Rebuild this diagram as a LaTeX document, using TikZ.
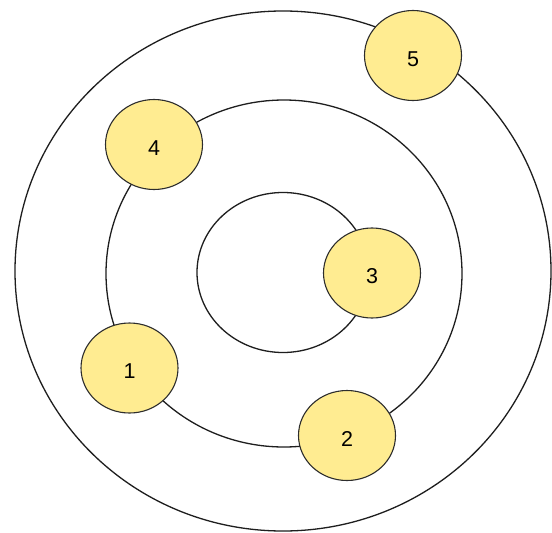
\documentclass[tikz,border=0pt]{standalone}
\usepackage{fontspec}
\setmainfont{Liberation Sans}
\usetikzlibrary{shapes.geometric}
\definecolor{nodefill}{RGB}{255,236,145}
\definecolor{ringline}{RGB}{30,30,30}
\definecolor{nodeline}{RGB}{45,45,45}
\tikzset{
  ring/.style={draw=ringline, line width=1.3pt},
  planet/.style={ellipse, draw=nodeline, line width=1.1pt, fill=nodefill,
    minimum width=97pt, minimum height=90pt, inner sep=0pt,
    text height=21.5pt, text depth=0pt,
    font=\fontsize{21.5}{24}\selectfont}
}
\begin{document}
\begin{tikzpicture}[x=1pt,y=-1pt]
\useasboundingbox (0,0) rectangle (552,533);
\fill[white] (0,0) rectangle (552,533);
% rings
\draw[ring] (283,271) ellipse [x radius=268, y radius=260];
\draw[ring] (284,273.5) ellipse [x radius=178, y radius=173.5];
\draw[ring] (283,272.5) ellipse [x radius=86, y radius=80];
% planets
\node[planet] (n5) at (413,55.5) {5};
\node[planet] (n4) at (154,144.5) {4};
\node[planet] (n3) at (372,273) {3};
\node[planet] (n1) at (129.5,368) {1};
\node[planet] (n2) at (347,435.5) {2};
\end{tikzpicture}
\end{document}
